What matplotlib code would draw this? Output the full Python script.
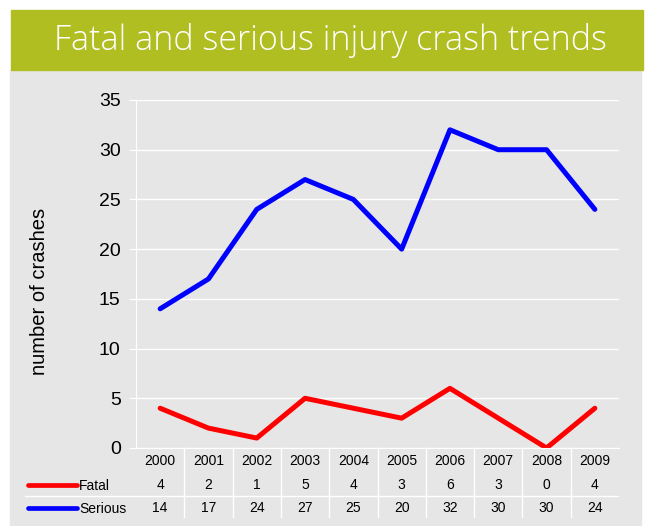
#!/usr/bin/env python3

import matplotlib.pyplot as plt
from matplotlib.patches import Rectangle

years = ["2000", "2001", "2002", "2003", "2004", "2005", "2006", "2007", "2008", "2009"]
fatal = [4, 2, 1, 5, 4, 3, 6, 3, 0, 4]
serious = [14, 17, 24, 27, 25, 20, 32, 30, 30, 24]
yticks = [0, 5, 10, 15, 20, 25, 30, 35]

W, H = 654, 526
GRAY = "#e6e6e6"
GREEN = "#b0be21"
FONT = "Liberation Sans"


def fx(px):
    return px / W


def fy(py):
    return 1 - py / H


def plot():
    fig = plt.figure(figsize=(W / 100, H / 100), dpi=100)
    fig.patch.set_facecolor("white")
    fig.patches.append(Rectangle((fx(10), fy(526)), fx(631), 456 / H,
                                 transform=fig.transFigure, color=GRAY, zorder=-10))
    fig.patches.append(Rectangle((fx(11), fy(70)), fx(632), 60 / H,
                                 transform=fig.transFigure, color=GREEN, zorder=-10))
    fig.text(fx(330), fy(40), "Fatal and serious injury crash trends", color="white",
             fontsize=24.5, fontfamily="Open Sans", fontweight="light",
             ha="center", va="center")

    left, right, top, bottom = 136, 619, 100, 448
    ax = fig.add_axes([fx(left), fy(bottom), fx(right - left), (bottom - top) / H])
    ax.set_facecolor(GRAY)
    x = range(len(years))
    ax.plot(x, fatal, color="#ff0000", lw=3.6, solid_capstyle="round")
    ax.plot(x, serious, color="#0000ff", lw=3.6, solid_capstyle="round")
    ax.set_xlim(-0.5, len(years) - 0.5)
    ax.set_ylim(0, 35)
    ax.set_yticks(yticks)
    ax.set_yticklabels([str(t) for t in yticks], fontfamily=FONT, fontsize=14)
    ax.tick_params(axis="y", color="white", length=5, pad=6)
    ax.set_xticks([])
    ax.grid(axis="y", color="white", lw=1)
    ax.set_axisbelow(True)
    for s in ["top", "right"]:
        ax.spines[s].set_visible(False)
    ax.spines["left"].set_color("white")
    ax.spines["bottom"].set_color("white")
    fig.text(fx(40), fy(291), "number of crashes", rotation=90, fontfamily=FONT,
             fontsize=14.5, ha="center", va="center")

    # data table below the axis
    tr = ax.get_xaxis_transform()
    span = bottom - top
    row_y = [-(py - bottom) / span for py in (461, 485, 508)]
    for i in x:
        for r, val in enumerate((years[i], str(fatal[i]), str(serious[i]))):
            ax.text(i, row_y[r], val, transform=tr, ha="center", va="center",
                    fontsize=10, fontfamily=FONT, clip_on=False)
    y_end = -(517 - bottom) / span
    for i in range(1, len(years)):
        ax.plot([i - 0.5, i - 0.5], [0, y_end], transform=tr, color="white", lw=1, clip_on=False)
    fig.add_artist(plt.Line2D([fx(25), fx(618)], [fy(496), fy(496)], color="white", lw=1,
                              transform=fig.transFigure))

    # legend keys in the table
    for yy, col, name in [(485, "#ff0000", "Fatal"), (508, "#0000ff", "Serious")]:
        fig.add_artist(plt.Line2D([fx(28), fx(77)], [fy(yy), fy(yy)], color=col, lw=3.4,
                                  solid_capstyle="round", transform=fig.transFigure))
        fig.text(fx(79), fy(yy + 1), name, fontsize=10, fontfamily=FONT,
                 ha="left", va="center")

    fig.savefig("out.png", dpi=100)
    plt.close(fig)


def main():
    plot()


if __name__ == "__main__":
    main()
